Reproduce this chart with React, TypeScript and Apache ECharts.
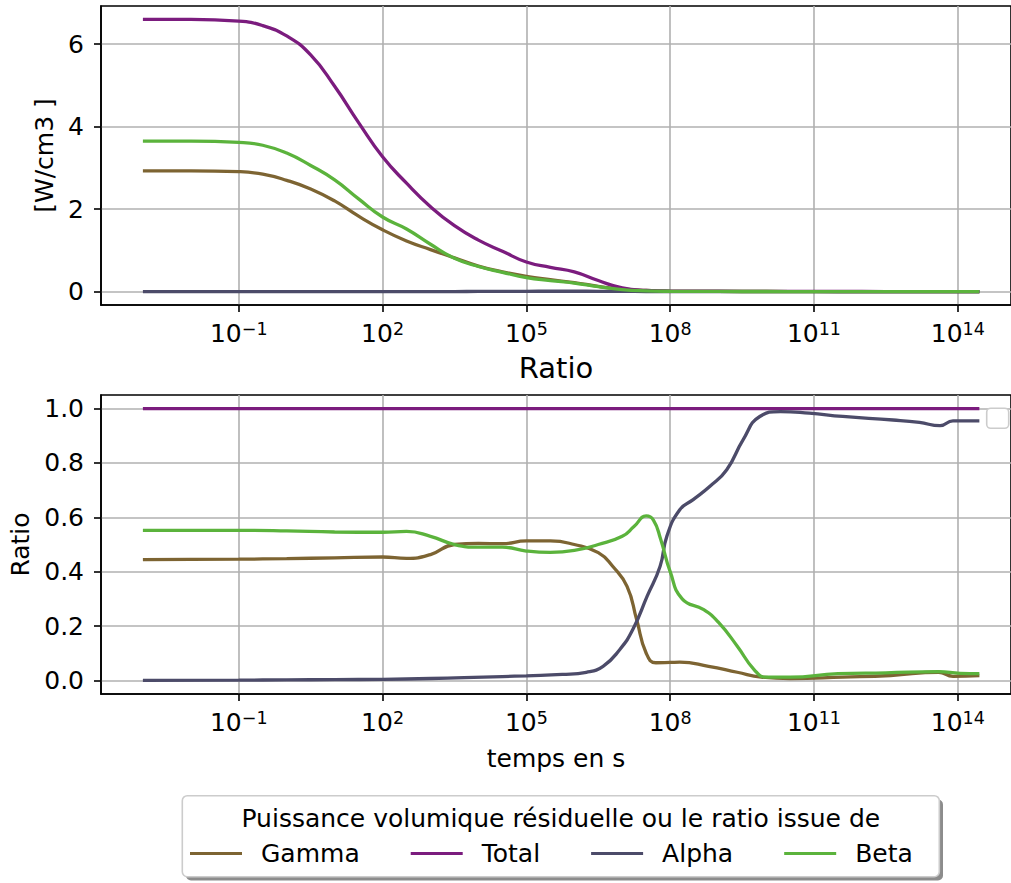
import React, { useEffect, useRef } from 'react';
import * as echarts from 'echarts';

const FONT = 'DejaVu Sans';

// Colours
const COL_GAMMA = '#7d6432';
const COL_TOTAL = '#7b1c7e';
const COL_ALPHA = '#4c4b69';
const COL_BETA = '#5bb33c';

// Tick exponents (log10 of time in s)
const xTickExps = [-1, 2, 5, 8, 11, 14];
const topYTicks = [0, 2, 4, 6];
const bottomYTicks = [0, 0.2, 0.4, 0.6, 0.8, 1.0];

// ---- Top plot: residual volumic power [W/cm3] vs log10(time) ----
const topTimeExp = [-3, -2, -1, -0.5, 0, 0.5, 1, 1.5, 2, 2.5, 3, 3.5, 4, 4.5, 5, 5.5, 6, 6.5, 7, 7.5, 8, 9, 10, 11, 12, 13, 14, 14.45];
const topTotal = [6.6, 6.6, 6.56, 6.45, 6.2, 5.74, 4.98, 4.1, 3.27, 2.63, 2.06, 1.6, 1.25, 0.98, 0.72, 0.59, 0.48, 0.27, 0.09, 0.03, 0.015, 0.01, 0.006, 0.005, 0.004, 0.003, 0.003, 0.003];
const topBeta = [3.65, 3.65, 3.62, 3.55, 3.36, 3.06, 2.71, 2.25, 1.81, 1.52, 1.15, 0.81, 0.61, 0.47, 0.34, 0.27, 0.21, 0.12, 0.05, 0.02, 0.01, 0.006, 0.004, 0.003, 0.002, 0.002, 0.002, 0.002];
const topGamma = [2.93, 2.93, 2.91, 2.85, 2.7, 2.49, 2.2, 1.83, 1.5, 1.23, 1.02, 0.82, 0.62, 0.48, 0.37, 0.29, 0.22, 0.13, 0.06, 0.03, 0.015, 0.006, 0.004, 0.003, 0.002, 0.002, 0.002, 0.002];
const topAlpha = [0, 0, 0, 0, 0, 0, 0, 0, 0.001, 0.001, 0.002, 0.003, 0.005, 0.007, 0.009, 0.01, 0.01, 0.009, 0.007, 0.004, 0.002, 0.001, 0.001, 0.001, 0.001, 0.001, 0.001, 0.001];

// ---- Bottom plot: ratio vs log10(time) ----
const ratioTotalExp = [-3, 14.45];
const ratioTotal = [1, 1];

const ratioBetaExp = [-3, -1, 0, 1, 2, 2.5, 3, 3.5, 4, 4.5, 5, 5.5, 6, 6.5, 7, 7.25, 7.5, 7.65, 7.8, 8.0, 8.25, 8.7, 9.0, 9.4, 9.75, 10, 10.5, 11.5, 12.5, 13.6, 14.05, 14.45];
const ratioBeta = [0.552, 0.552, 0.55, 0.546, 0.545, 0.548, 0.53, 0.5, 0.49, 0.49, 0.476, 0.471, 0.478, 0.5, 0.53, 0.567, 0.605, 0.59, 0.52, 0.4, 0.3, 0.26, 0.215, 0.126, 0.04, 0.012, 0.012, 0.025, 0.028, 0.032, 0.026, 0.025];

const ratioGammaExp = [-3, -1, 0, 1, 2, 2.5, 3, 3.5, 4, 4.5, 5, 5.5, 6, 6.5, 6.8, 7.1, 7.3, 7.5, 7.7, 8.0, 8.2, 8.8, 9.4, 9.9, 10.5, 11.6, 12.6, 13.6, 13.9, 14.45];
const ratioGamma = [0.444, 0.446, 0.448, 0.451, 0.454, 0.449, 0.463, 0.5, 0.504, 0.503, 0.513, 0.513, 0.5, 0.47, 0.42, 0.346, 0.224, 0.1, 0.065, 0.066, 0.067, 0.052, 0.03, 0.012, 0.007, 0.012, 0.018, 0.03, 0.015, 0.018];

const ratioAlphaExp = [-3, -1, 0, 1, 2, 3, 3.7, 4.5, 5, 5.75, 6.25, 6.6, 6.95, 7.22, 7.52, 7.79, 7.93, 8.2, 8.48, 8.83, 9.18, 9.52, 9.87, 10.3, 10.9, 11.6, 12.65, 13.2, 13.63, 13.9, 14.45];
const ratioAlpha = [0, 0.001, 0.002, 0.003, 0.004, 0.007, 0.01, 0.014, 0.017, 0.022, 0.03, 0.052, 0.114, 0.187, 0.31, 0.42, 0.53, 0.628, 0.665, 0.714, 0.775, 0.885, 0.971, 0.989, 0.983, 0.971, 0.958, 0.949, 0.937, 0.955, 0.955];

const seriesNames = ['Gamma', 'Total', 'Alpha', 'Beta'];
const legendTitle = 'Puissance volumique résiduelle ou le ratio issue de';

const X_MIN = -3.874;
const X_MAX = 15.11;

const pairs = (xs: number[], ys: number[]) => xs.map((x, i) => [x, ys[i]]);

const fmtExp = (v: number) => {
  const n = Math.round(v);
  return n < 0 ? '\u2212' + Math.abs(n) : String(n);
};

const GRID_COLOR = '#b0b0b0';
const LW = 1.6;
const TICK_FS = 25;

const makeXAxis = (gridIndex: number, name: string, nameSize: number, nameGap: number) => ({
  type: 'value',
  gridIndex,
  min: X_MIN,
  max: X_MAX,
  name,
  nameLocation: 'middle',
  nameGap,
  nameTextStyle: { fontFamily: FONT, fontSize: nameSize, color: '#000' },
  axisLine: { show: true, onZero: false, lineStyle: { color: '#000', width: LW } },
  axisTick: { show: true, length: 7, lineStyle: { color: '#000', width: LW }, customValues: xTickExps },
  axisLabel: {
    customValues: xTickExps,
    margin: 15,
    color: '#000',
    fontFamily: FONT,
    formatter: (v: number) => `{b|10}{s|${fmtExp(v)}}`,
    rich: {
      b: { fontFamily: FONT, fontSize: TICK_FS, lineHeight: 26, padding: [4, 0, 0, 0], verticalAlign: 'bottom', color: '#000' },
      s: { fontFamily: FONT, fontSize: 17.5, lineHeight: 18, verticalAlign: 'top', color: '#000' },
    },
  },
  splitLine: { show: true, lineStyle: { color: GRID_COLOR, width: LW } },
});

const makeYAxis = (gridIndex: number, min: number, max: number, ticks: number[], name: string, nameGap: number, fmt: (v: number) => string) => ({
  type: 'value',
  gridIndex,
  min,
  max,
  name,
  nameLocation: 'middle',
  nameGap,
  nameTextStyle: { fontFamily: FONT, fontSize: 25, color: '#000' },
  axisLine: { show: true, onZero: false, lineStyle: { color: '#000', width: LW } },
  axisTick: { show: true, length: 7, lineStyle: { color: '#000', width: LW }, customValues: ticks },
  axisLabel: { customValues: ticks, margin: 17, color: '#000', fontFamily: FONT, fontSize: TICK_FS, formatter: fmt },
  splitLine: { show: true, lineStyle: { color: GRID_COLOR, width: LW } },
});

const lineSeries = (name: string, color: string, idx: number, data: number[][]) => ({
  name,
  type: 'line',
  xAxisIndex: idx,
  yAxisIndex: idx,
  data,
  symbol: 'none',
  showSymbol: false,
  smooth: 0.5,
  lineStyle: { color, width: 3.3 },
  itemStyle: { color },
  emphasis: { disabled: true },
});

export default function App() {
  const ref = useRef<HTMLDivElement>(null);
  useEffect(() => {
    const chart = echarts.init(ref.current!, undefined, { renderer: 'svg' });
    const option: any = {
      animation: false,
      backgroundColor: '#fff',
      textStyle: { fontFamily: FONT },
      grid: [
        { left: 101, top: 6, width: 910, height: 299, show: true, borderColor: '#000', borderWidth: LW, backgroundColor: 'transparent' },
        { left: 101, top: 395, width: 910, height: 299, show: true, borderColor: '#000', borderWidth: LW, backgroundColor: 'transparent' },
      ],
      xAxis: [makeXAxis(0, 'Ratio', 29, 48), makeXAxis(1, 'temps en s', 25, 52)],
      yAxis: [
        makeYAxis(0, -0.323, 6.926, topYTicks, '[W/cm3 ]', 44, (v: number) => String(Math.round(v))),
        makeYAxis(1, -0.05, 1.05, bottomYTicks, 'Ratio', 65, (v: number) => v.toFixed(1)),
      ],
      legend: {
        data: seriesNames,
        left: 190,
        top: 841,
        padding: 0,
        icon: 'rect',
        itemWidth: 52,
        itemHeight: 3,
        itemGap: 51,
        textStyle: { fontFamily: FONT, fontSize: 25, color: '#000', padding: [0, 0, 0, 14] },
        selectedMode: false,
        z: 10,
      },
      graphic: [
        { type: 'rect', z: 5, shape: { x: 186, y: 799.5, width: 757, height: 81, r: 5 }, style: { fill: 'rgba(0,0,0,0.45)' } },
        { type: 'rect', z: 6, shape: { x: 182.3, y: 795.7, width: 757, height: 81, r: 5 }, style: { fill: '#fff', stroke: '#cccccc', lineWidth: LW } },
        { type: 'text', z: 7, x: 560.8, y: 818, style: { text: legendTitle, fontFamily: FONT, fontSize: 25, fill: '#000', align: 'center', verticalAlign: 'middle' } },
        { type: 'rect', z: 6, shape: { x: 986.7, y: 408.3, width: 22, height: 20, r: 4 }, style: { fill: '#fff', stroke: '#cccccc', lineWidth: LW } },
      ],
      series: [
        lineSeries('Gamma', COL_GAMMA, 0, pairs(topTimeExp, topGamma)),
        lineSeries('Total', COL_TOTAL, 0, pairs(topTimeExp, topTotal)),
        lineSeries('Alpha', COL_ALPHA, 0, pairs(topTimeExp, topAlpha)),
        lineSeries('Beta', COL_BETA, 0, pairs(topTimeExp, topBeta)),
        lineSeries('Gamma', COL_GAMMA, 1, pairs(ratioGammaExp, ratioGamma)),
        lineSeries('Total', COL_TOTAL, 1, pairs(ratioTotalExp, ratioTotal)),
        lineSeries('Alpha', COL_ALPHA, 1, pairs(ratioAlphaExp, ratioAlpha)),
        lineSeries('Beta', COL_BETA, 1, pairs(ratioBetaExp, ratioBeta)),
      ],
    };
    chart.setOption(option);
    return () => chart.dispose();
  }, []);
  return <div ref={ref} style={{ position: 'absolute', left: 0, top: 0, width: 1011, height: 883, background: '#fff' }} />;
}
